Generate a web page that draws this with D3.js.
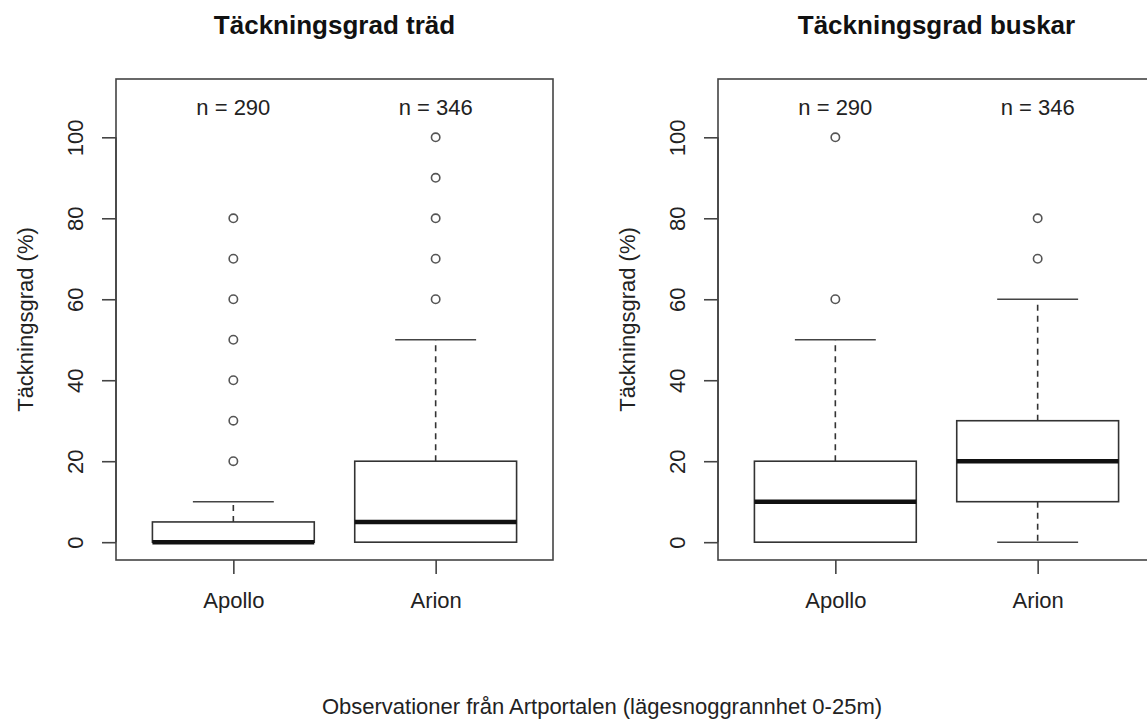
<!DOCTYPE html>
<html>
<head>
<meta charset="utf-8">
<script src="https://cdn.jsdelivr.net/npm/d3@7"></script>
<style>
  body { margin: 0; background: #fff; }
  svg { display: block; font-family: "Liberation Sans", Arial, sans-serif; }
</style>
</head>
<body>
<div id="vis"></div>
<script>
// Data
const groups = ['Apollo', 'Arion'];
const counts = [290, 346];
const panelTitles = ['Täckningsgrad träd', 'Täckningsgrad buskar'];
const yTicks = [0, 20, 40, 60, 80, 100];
// box stats per group: [lower whisker, q1, median, q3, upper whisker]
const tradStats = [[0, 0, 0, 5, 10], [0, 0, 5, 20, 50]];
const tradOutliers = [[20, 30, 40, 50, 60, 70, 80], [60, 70, 80, 90, 100]];
const buskarStats = [[0, 0, 10, 20, 50], [0, 10, 20, 30, 60]];
const buskarOutliers = [[60, 100], [70, 80]];
const yLabel = 'Täckningsgrad (%)';
const footer = 'Observationer från Artportalen (lägesnoggrannhet 0-25m)';

const W = 1147, H = 722;
const panelW = 602; // each panel is half of a 1204px wide device
const plot = { left: 116, right: 553, top: 79, bottom: 560 };
const ink = '#222';

const svg = d3.select('#vis').append('svg')
    .attr('width', W)
    .attr('height', H);

// y scale is shared (ylim 0-110 with R's 4% padding)
const yScale = d3.scaleLinear()
    .domain([-4.4, 114.4])
    .range([plot.bottom, plot.top]);

function drawPanel(i, stats, outliers) {
    const g = svg.append('g').attr('transform', `translate(${i * panelW},0)`);

    const xScale = d3.scaleLinear()
        .domain([0.42, 2.58])
        .range([plot.left, plot.right]);
    const unit = xScale(1) - xScale(0);

    // title
    g.append('text')
        .attr('x', (plot.left + plot.right) / 2)
        .attr('y', 34)
        .attr('text-anchor', 'middle')
        .style('font-size', '26px')
        .style('font-weight', 'bold')
        .attr('fill', '#111')
        .text(panelTitles[i]);

    // frame
    g.append('rect')
        .attr('x', plot.left)
        .attr('y', plot.top)
        .attr('width', plot.right - plot.left)
        .attr('height', plot.bottom - plot.top)
        .attr('fill', 'none')
        .attr('stroke', '#444')
        .attr('stroke-width', 1.6);

    // y axis
    const yAxis = d3.axisLeft(yScale).tickValues(yTicks).tickSize(14).tickSizeOuter(0).tickFormat(d3.format('d'));
    const ya = g.append('g')
        .attr('class', 'axis y-axis')
        .attr('transform', `translate(${plot.left},0)`)
        .call(yAxis);
    ya.select('.domain').attr('d', `M-0,${yScale(0)}V${yScale(100)}`).attr('stroke', '#444').attr('stroke-width', 1.6);
    ya.selectAll('.tick line').attr('stroke', '#444').attr('stroke-width', 1.6);
    ya.selectAll('.tick text')
        .attr('x', 0).attr('dy', 0)
        .attr('transform', 'translate(-33,0) rotate(-90)')
        .attr('text-anchor', 'middle')
        .attr('fill', ink)
        .style('font-size', '22px');

    // x axis
    const xAxis = d3.axisBottom(xScale).tickValues([1, 2]).tickSize(14).tickSizeOuter(0)
        .tickFormat(d => groups[d - 1]);
    const xa = g.append('g')
        .attr('class', 'axis x-axis')
        .attr('transform', `translate(0,${plot.bottom})`)
        .call(xAxis);
    xa.select('.domain').remove();
    xa.selectAll('.tick line').attr('stroke', '#444').attr('stroke-width', 1.6);
    xa.selectAll('.tick text')
        .attr('y', 48).attr('dy', 0)
        .attr('fill', ink)
        .style('font-size', '22px');

    // y label
    g.append('text')
        .attr('transform', `translate(33,${(plot.top + plot.bottom) / 2}) rotate(-90)`)
        .attr('text-anchor', 'middle')
        .attr('fill', ink)
        .style('font-size', '22px')
        .text(yLabel);

    // n labels
    g.selectAll('.nlab')
        .data(counts)
        .join('text')
        .attr('class', 'nlab')
        .attr('x', (d, j) => xScale(j + 1))
        .attr('y', 115)
        .attr('text-anchor', 'middle')
        .attr('fill', ink)
        .style('font-size', '22px')
        .text(d => `n = ${d}`);

    // boxes
    stats.forEach((s, j) => {
        const cx = xScale(j + 1);
        const bw = 0.4 * unit, sw = 0.2 * unit;
        const bg = g.append('g').attr('class', 'box');
        // whiskers
        [[s[3], s[4]], [s[1], s[0]]].forEach(([a, b]) => {
            if (a === b) return;
            bg.append('line')
                .attr('x1', cx).attr('x2', cx)
                .attr('y1', yScale(a)).attr('y2', yScale(b))
                .attr('stroke', '#333').attr('stroke-width', 1.6)
                .attr('stroke-dasharray', '6,5');
        });
        // staples
        [s[0], s[4]].forEach(v => {
            bg.append('line')
                .attr('x1', cx - sw).attr('x2', cx + sw)
                .attr('y1', yScale(v)).attr('y2', yScale(v))
                .attr('stroke', '#444').attr('stroke-width', 1.6);
        });
        // box
        bg.append('rect')
            .attr('x', cx - bw)
            .attr('y', yScale(s[3]))
            .attr('width', 2 * bw)
            .attr('height', yScale(s[1]) - yScale(s[3]))
            .attr('fill', '#fff')
            .attr('stroke', '#333')
            .attr('stroke-width', 1.6);
        // median
        bg.append('line')
            .attr('x1', cx - bw).attr('x2', cx + bw)
            .attr('y1', yScale(s[2])).attr('y2', yScale(s[2]))
            .attr('stroke', '#111').attr('stroke-width', 4.5);
        // outliers
        bg.selectAll('circle')
            .data(outliers[j])
            .join('circle')
            .attr('cx', cx)
            .attr('cy', d => yScale(d))
            .attr('r', 4.2)
            .attr('fill', 'none')
            .attr('stroke', '#555')
            .attr('stroke-width', 1.6);
    });
}

drawPanel(0, tradStats, tradOutliers);
drawPanel(1, buskarStats, buskarOutliers);

// footer
svg.append('text')
    .attr('x', panelW)
    .attr('y', 714)
    .attr('text-anchor', 'middle')
    .attr('fill', ink)
    .style('font-size', '22px')
    .text(footer);
</script>
</body>
</html>
